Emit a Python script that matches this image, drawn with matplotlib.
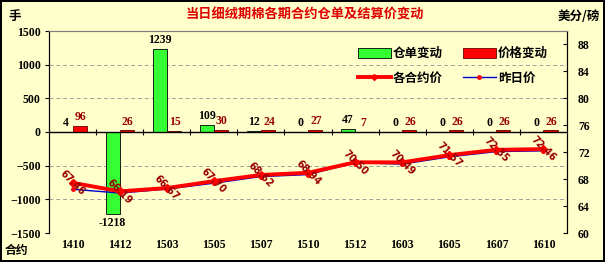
import matplotlib
matplotlib.use("Agg")
import matplotlib.pyplot as plt
import numpy as np
from matplotlib.patches import Patch
from matplotlib.lines import Line2D

contracts = ["1410", "1412", "1503", "1505", "1507", "1510", "1512", "1603", "1605", "1607", "1610"]
warrant_change = [4, -1218, 1239, 109, 12, 0, 47, 0, 0, 0, 0]
price_change = [96, 26, 15, 30, 24, 27, 7, 26, 26, 26, 26]
settle_price = [67.46, 66.19, 66.67, 67.70, 68.62, 68.94, 70.50, 70.49, 71.57, 72.35, 72.46]
prev_price = [66.50, 65.93, 66.52, 67.40, 68.38, 68.67, 70.43, 70.23, 71.31, 72.09, 72.20]

CJK = ["Noto Sans CJK SC", "DejaVu Sans"]
NUM = ["Liberation Serif", "DejaVu Serif"]
BG = "#FFFFCC"
DARKRED = "#990000"

fig = plt.figure(figsize=(6.05, 2.62), dpi=100, facecolor=BG, edgecolor="black", linewidth=1.5)
ax = fig.add_axes([49/605, 1-233/262, (567-49)/605, (233-31)/262])
ax.set_facecolor(BG)
ax2 = ax.twinx()

x = np.arange(len(contracts))
w = 0.3
ax.bar(x - w/2, warrant_change, width=w, color="#33FF33", edgecolor="black", linewidth=0.6, zorder=3)
ax.bar(x + w/2, price_change, width=w, color="#FF0000", edgecolor="#660000", linewidth=0.6, zorder=3)

ax.set_xlim(-0.5, len(contracts) - 0.5)
ax.set_ylim(-1500, 1500)
ax.set_yticks([-1500, -1000, -500, 0, 500, 1000, 1500])
for g in [-1000, -500, 500, 1000]:
    ax.axhline(g, color="#A0A0A0", lw=0.7, ls=(0, (4, 3)), zorder=1)
ax.axhline(0, color="black", lw=1.0, zorder=4)
ax.vlines(np.arange(0.5, len(contracts) - 0.5, 1), -45, 45, color="black", lw=0.8, zorder=4)

ax.set_xticks(x)
ax.set_xticklabels(contracts)
ax.tick_params(axis="x", length=0, pad=4)
ax.tick_params(axis="y", direction="out", length=3, pad=3)
for lbl in ax.get_xticklabels() + ax.get_yticklabels():
    lbl.set_fontfamily(NUM)
    lbl.set_fontweight("bold")
    lbl.set_fontsize(8.5)

for s in ["bottom"]:
    ax.spines[s].set_visible(False)
    ax2.spines[s].set_visible(False)
ax.spines["top"].set_color("#808080")
ax2.spines["top"].set_color("#808080")
ax.spines["top"].set_linewidth(0.8)
ax2.spines["top"].set_linewidth(0.8)

# bar labels
for xi, v in zip(x, warrant_change):
    if v >= 0:
        ax.text(xi - w/2, v + 40, str(v), ha="center", va="bottom", fontsize=8.5,
                fontweight="bold", family=NUM, color="black", zorder=5)
    else:
        ax.text(xi - w/2, v - 40, str(v), ha="center", va="top", fontsize=8.5,
                fontweight="bold", family=NUM, color="black", zorder=5)
for xi, v in zip(x, price_change):
    ax.text(xi + w/2 + 0.02, v + 40, str(v), ha="center", va="bottom", fontsize=8.5,
            fontweight="bold", family=NUM, color=DARKRED, zorder=5)

# price lines
ax2.plot(x, prev_price, color="#0000CC", lw=1.0, marker="o", markersize=2.5,
         markerfacecolor="red", markeredgecolor="red", zorder=5)
ax2.plot(x, settle_price, color="#FF0000", lw=2.8, marker="D", markersize=4,
         markerfacecolor="red", markeredgecolor="red", zorder=6)
ax2.set_ylim(60, 90)
ax2.set_yticks(np.arange(60, 89, 4))
ax2.tick_params(axis="y", direction="in", length=3, pad=8)
for lbl in ax2.get_yticklabels():
    lbl.set_fontfamily(NUM)
    lbl.set_fontweight("bold")
    lbl.set_fontsize(8.5)
for xi, p in zip(x, settle_price):
    ax2.text(xi, p, f"{p:.2f}", rotation=-45, rotation_mode="anchor", ha="center", va="center",
             fontsize=7, fontweight="bold", family=["DejaVu Sans"], color=DARKRED, zorder=7)

# legend
handles = [
    Patch(facecolor="#33FF33", edgecolor="black", linewidth=0.6),
    Line2D([0], [0], color="#FF0000", lw=2.8, marker="D", markersize=3, markerfacecolor="red"),
    Patch(facecolor="#FF0000", edgecolor="#660000", linewidth=0.6),
    Line2D([0], [0], color="#0000CC", lw=1.0, marker="o", markersize=2.5, markerfacecolor="red", markeredgecolor="red"),
]
labels = ["仓单变动", "各合约价", "价格变动", "昨日价"]
leg = ax2.legend(handles, labels, ncol=2, loc="upper left", bbox_to_anchor=(0.575, 0.975),
                 frameon=False, prop={"family": CJK, "weight": "bold", "size": 9},
                 handlelength=2.6, handleheight=0.9, columnspacing=1.6, labelspacing=0.9,
                 handletextpad=0.2)
leg.set_zorder(10)

# texts
fig.text(305/605, 1-15/262, "当日细绒期棉各期合约仓单及结算价变动", ha="center", va="center",
         color="#DD0000", fontsize=9.5, fontweight="bold", family=CJK)
fig.text(8/605, 1-16/262, "手", ha="left", va="center", fontsize=9, fontweight="bold", family=CJK)
fig.text(600/605, 1-17/262, "美分/磅", ha="right", va="center", fontsize=9, fontweight="bold", family=CJK)
fig.text(5/605, 1-250/262, "合约", ha="left", va="center", fontsize=8.5, fontweight="bold", family=CJK)

fig.savefig("out.png", dpi=100, facecolor=BG, edgecolor="black")
